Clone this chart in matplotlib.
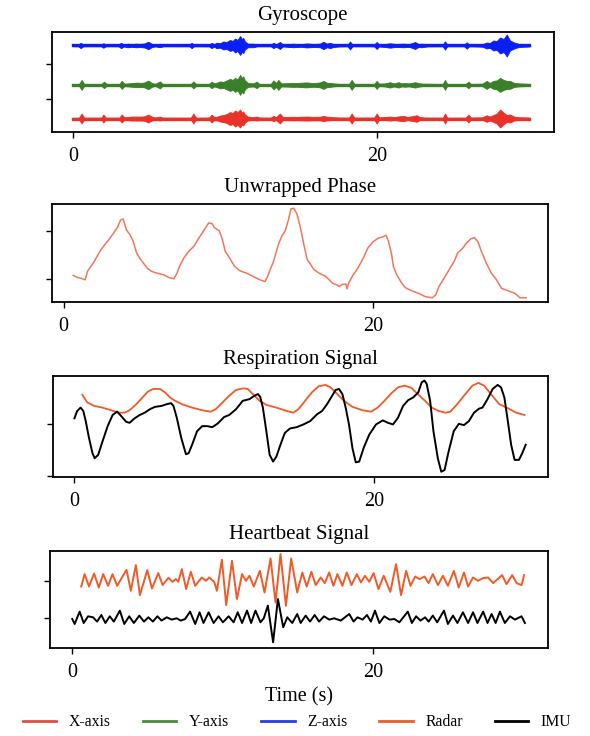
import numpy as np
import matplotlib
matplotlib.use("Agg")
import matplotlib.pyplot as plt
from matplotlib.lines import Line2D

plt.rcParams['font.family'] = ['Liberation Serif', 'DejaVu Serif']

# ----- DATA -----
# gyroscope: (time s, half width of the noise band)
gyro_x = [(0.0, 0.8), (0.4, 0.8), (0.58, 5.0), (0.75, 0.9), (1.88, 0.9), (2.01, 4.0), (2.17, 0.9), (3.05, 0.9),
          (3.21, 4.0), (3.4, 1.2), (3.87, 2.0), (4.2, 2.0), (4.5, 2.0), (4.7, 2.2), (4.96, 4.0), (5.18, 2.0),
          (5.4, 1.0), (5.73, 2.0), (5.9, 0.9), (7.75, 0.9), (7.92, 5.0), (8.1, 0.9), (8.95, 1.0), (9.12, 4.0),
          (9.3, 1.5), (9.5, 2.0), (9.67, 3.0), (9.89, 3.5), (10.1, 4.5), (10.33, 6.5), (10.5, 5.5), (10.66, 8.0),
          (10.82, 6.5), (10.99, 9.0), (11.1, 6.0), (11.2, 7.0), (11.31, 4.0), (11.5, 2.0), (11.86, 1.3),
          (12.08, 2.0), (12.25, 1.0), (13.0, 0.9), (13.18, 2.7), (13.35, 1.5), (13.61, 5.0), (13.8, 1.5),
          (14.27, 1.7), (14.49, 1.8), (14.71, 1.7), (15.0, 1.8), (15.37, 2.0), (15.8, 1.7), (16.24, 1.8),
          (16.46, 2.7), (16.7, 1.8), (16.9, 1.7), (17.12, 1.3), (17.5, 1.0), (18.15, 1.0), (18.32, 5.0),
          (18.5, 1.0), (19.8, 1.0), (19.96, 5.0), (20.12, 1.2), (20.5, 1.5), (20.84, 2.0), (21.1, 1.5),
          (21.72, 2.7), (22.0, 1.5), (22.59, 3.3), (22.8, 1.5), (23.1, 1.0), (24.3, 0.9), (24.45, 5.0),
          (24.6, 0.9), (25.8, 0.9), (25.99, 4.0), (26.15, 1.0), (26.9, 1.2), (27.19, 3.3), (27.4, 2.0),
          (27.63, 3.5), (27.85, 5.0), (28.07, 9.0), (28.3, 6.0), (28.51, 3.5), (28.72, 4.0), (29.0, 2.0),
          (29.3, 1.3), (30.0, 1.0)]
gyro_y = [(0.0, 0.8), (0.4, 0.8), (0.58, 5.0), (0.75, 0.9), (1.88, 0.9), (2.05, 3.3), (2.22, 0.9), (3.05, 0.9),
          (3.21, 4.0), (3.4, 1.2), (3.87, 1.8), (4.2, 2.3), (4.5, 2.0), (4.7, 2.5), (4.96, 4.3), (5.18, 2.0),
          (5.4, 1.0), (5.73, 3.5), (5.9, 0.9), (7.75, 0.9), (7.92, 3.5), (8.1, 0.9), (8.95, 1.0), (9.12, 3.3),
          (9.3, 1.5), (9.5, 2.5), (9.67, 3.5), (9.89, 3.0), (10.1, 4.5), (10.33, 6.0), (10.5, 5.0), (10.66, 7.0),
          (10.82, 5.5), (10.99, 10.0), (11.1, 7.0), (11.2, 8.5), (11.31, 4.5), (11.5, 2.0), (11.86, 1.5),
          (12.08, 3.3), (12.25, 1.0), (13.0, 0.9), (13.18, 4.5), (13.35, 2.0), (13.5, 5.0), (13.7, 1.5),
          (14.27, 1.8), (14.49, 2.0), (14.71, 1.8), (15.0, 2.2), (15.37, 2.5), (15.8, 1.8), (16.24, 2.5),
          (16.46, 4.0), (16.7, 2.2), (16.9, 2.0), (17.12, 1.5), (17.5, 1.0), (18.15, 1.0), (18.32, 5.0),
          (18.5, 1.0), (19.8, 1.0), (19.96, 4.0), (20.12, 1.2), (20.5, 1.5), (20.84, 2.7), (21.1, 1.5),
          (21.39, 2.7), (21.6, 1.5), (21.8, 1.8), (22.1, 1.5), (22.49, 2.7), (22.7, 1.8), (23.0, 1.2),
          (24.3, 0.9), (24.45, 5.0), (24.6, 0.9), (25.8, 0.9), (25.99, 3.3), (26.15, 1.0), (26.9, 1.2),
          (27.19, 4.0), (27.4, 2.0), (27.63, 4.0), (27.85, 4.5), (28.07, 7.0), (28.3, 5.0), (28.51, 4.0),
          (28.72, 4.0), (29.0, 2.0), (29.3, 1.5), (30.0, 1.0)]
gyro_z = [(0.0, 0.8), (0.35, 0.8), (0.52, 2.7), (0.7, 0.8), (1.85, 0.8), (2.01, 2.3), (2.17, 0.8), (3.0, 0.8),
          (3.17, 2.7), (3.35, 1.0), (3.61, 1.8), (3.87, 1.3), (4.15, 1.8), (4.42, 1.6), (4.7, 2.0), (4.96, 3.7),
          (5.18, 1.8), (5.4, 0.9), (5.73, 1.7), (5.95, 0.8), (7.65, 0.8), (7.81, 2.7), (7.97, 0.8), (8.95, 0.9),
          (9.12, 2.7), (9.28, 1.2), (9.45, 2.8), (9.67, 2.2), (9.89, 4.0), (10.1, 3.5), (10.33, 5.5), (10.5, 4.5),
          (10.66, 7.0), (10.82, 5.5), (10.99, 9.5), (11.1, 6.5), (11.2, 7.5), (11.31, 4.0), (11.5, 1.8),
          (11.86, 1.8), (12.1, 0.8), (13.0, 0.8), (13.18, 2.7), (13.35, 1.2), (13.61, 3.5), (13.8, 1.0),
          (14.27, 1.5), (14.49, 1.8), (14.71, 1.5), (15.0, 1.3), (15.37, 2.0), (15.8, 1.5), (16.24, 1.8),
          (16.46, 3.7), (16.7, 1.8), (16.9, 2.7), (17.12, 1.5), (17.5, 1.0), (18.05, 0.8), (18.21, 4.0),
          (18.38, 0.8), (19.5, 0.8), (19.8, 0.9), (19.96, 3.5), (20.12, 1.0), (20.5, 1.5), (20.84, 2.2),
          (21.2, 1.5), (21.72, 1.8), (22.1, 1.4), (22.49, 3.5), (22.7, 1.5), (22.92, 1.8), (23.3, 0.9),
          (24.3, 0.8), (24.45, 4.2), (24.6, 0.8), (25.7, 0.8), (25.88, 3.2), (26.05, 0.8), (26.9, 1.2),
          (27.19, 3.0), (27.4, 2.5), (27.63, 5.0), (27.85, 4.5), (28.07, 8.0), (28.3, 6.5), (28.51, 11.0),
          (28.72, 5.0), (29.0, 3.0), (29.3, 1.5), (30.0, 1.0)]

# unwrapped phase (time s, value)
phase = [(0.63, 26), (0.90, 24), (1.11, 23.3), (1.40, 21.7), (1.55, 30), (1.99, 40), (2.43, 51.7), (2.86, 60),
         (3.19, 66.7), (3.48, 73.3), (3.69, 80.7), (3.85, 81.7), (3.96, 76.7), (4.07, 70.7), (4.28, 66.7),
         (4.50, 60), (4.72, 48.3), (4.94, 42.7), (5.16, 38.3), (5.44, 32.7), (5.70, 30), (6.03, 28.3),
         (6.47, 26.7), (6.80, 24), (7.13, 22.7), (7.34, 28.3), (7.50, 35), (7.78, 43.3), (8.11, 50), (8.44, 55),
         (8.77, 63.3), (9.09, 70.7), (9.38, 77.7), (9.60, 77.3), (9.75, 73.3), (10.08, 70), (10.30, 60),
         (10.45, 50), (10.73, 43.3), (11.06, 35), (11.39, 30.7), (11.83, 28.3), (12.26, 25), (12.70, 21.7),
         (13.03, 20), (13.20, 25), (13.36, 31.7), (13.57, 39.3), (13.90, 56.7), (14.12, 65), (14.34, 70),
         (14.56, 81.7), (14.71, 91.7), (14.89, 92.3), (15.10, 86.7), (15.32, 73.3), (15.54, 56.7),
         (15.76, 41.7), (15.98, 36.7), (16.20, 31.7), (16.52, 28.3), (16.96, 25), (17.18, 21.7), (17.40, 18.3),
         (17.68, 16.7), (17.84, 15), (18.05, 17.3), (18.27, 17.3), (18.34, 12.7), (18.43, 18.3), (18.71, 26),
         (19.04, 33.3), (19.37, 42.7), (19.69, 53.3), (20.02, 59.3), (20.35, 62.7), (20.68, 64.3),
         (20.85, 65.7), (21.01, 60), (21.22, 46.7), (21.33, 35), (21.55, 26.7), (21.88, 18.3), (22.10, 14),
         (22.54, 10.7), (22.97, 8.3), (23.41, 5), (23.85, 4), (24.07, 6.7), (24.28, 15), (24.61, 23.3),
         (24.94, 31.7), (25.27, 40), (25.49, 48.3), (25.81, 52.7), (26.08, 58.3), (26.36, 62.3), (26.58, 63.3),
         (26.80, 59.3), (27.02, 50), (27.34, 38.3), (27.67, 28.3), (28.0, 21.7), (28.33, 13.3), (28.77, 10.7),
         (29.20, 8.3), (29.52, 4), (29.92, 4)]

# respiration (time s, value)
resp_radar = [(0.56, 81), (0.90, 73.3), (1.35, 70), (1.91, 68.3), (2.47, 65.7), (3.03, 63.3), (3.37, 63.3),
              (3.71, 65.7), (4.16, 71.7), (4.61, 79), (4.94, 84.3), (5.28, 86.7), (5.73, 86.7), (6.07, 83.3),
              (6.40, 78.3), (6.74, 75), (7.19, 71.7), (7.87, 68.3), (8.54, 65.7), (9.10, 64.3), (9.44, 66.7),
              (9.89, 73.3), (10.34, 80), (10.79, 85.7), (11.24, 87.3), (11.57, 86.7), (11.91, 81.7), (12.36, 75),
              (12.81, 71), (13.48, 68.3), (14.16, 65), (14.61, 63.3), (14.94, 66.7), (15.39, 75), (15.84, 83.3),
              (16.29, 89.3), (16.74, 90.7), (17.08, 88.3), (17.53, 81.7), (17.98, 75), (18.54, 69),
              (19.21, 65.7), (19.78, 64.3), (20.22, 68.3), (20.67, 75), (21.12, 82.3), (21.57, 88.3), (22.02, 90),
              (22.47, 87.7), (22.88, 81.7), (23.37, 75), (23.82, 68.3), (24.27, 65), (24.72, 63.3), (25.06, 64.3),
              (25.51, 71.7), (25.96, 80), (26.52, 90), (26.92, 92.7), (27.30, 90), (27.75, 81.7), (28.31, 71.7),
              (28.88, 67.7), (29.44, 63.3), (30.0, 61)]
resp_imu = [(0.04, 57.7), (0.22, 65), (0.45, 68.3), (0.63, 65), (0.79, 55), (1.01, 38.3), (1.24, 23.3),
            (1.39, 18.3), (1.62, 21.7), (1.91, 35), (2.25, 50), (2.58, 61), (2.88, 64.3), (3.15, 60), (3.48, 54.3),
            (3.71, 53.3), (4.04, 57.7), (4.38, 61), (4.72, 63.3), (5.06, 66.7), (5.39, 69), (5.84, 70),
            (6.18, 71.7), (6.47, 72.7), (6.63, 70), (6.85, 58.3), (7.15, 38.3), (7.46, 22.3), (7.64, 23.3),
            (7.87, 31.7), (8.20, 45), (8.54, 50), (8.88, 50), (9.21, 49), (9.55, 52.3), (10.0, 59), (10.34, 61),
            (10.79, 66.7), (11.24, 75), (11.69, 76.7), (12.02, 80), (12.25, 81.7), (12.40, 79), (12.58, 68.3),
            (12.81, 45), (13.03, 21.7), (13.26, 15), (13.48, 20), (13.75, 31.7), (14.04, 43.3), (14.38, 47.7),
            (14.83, 49), (15.28, 51.7), (15.73, 55), (16.18, 61.7), (16.52, 65), (16.85, 71.7), (17.19, 80),
            (17.42, 85.7), (17.64, 86.7), (17.87, 81.7), (18.09, 68.3), (18.31, 51.7), (18.54, 28.3),
            (18.76, 14.3), (18.99, 15), (19.28, 28.3), (19.66, 41.7), (20.11, 51.7), (20.56, 55.7), (20.90, 53.3),
            (21.24, 51.7), (21.57, 58.3), (21.91, 70), (22.25, 75.7), (22.58, 78.3), (22.92, 83.3), (23.15, 93.3),
            (23.33, 95), (23.48, 91.7), (23.71, 75), (23.93, 45), (24.22, 18.3), (24.45, 5), (24.67, 6.7),
            (24.94, 25), (25.28, 45), (25.62, 52.3), (25.96, 51), (26.29, 55), (26.63, 63.3), (26.97, 67.3),
            (27.19, 68.3), (27.53, 76.7), (27.87, 86.7), (28.20, 90.7), (28.43, 88.3), (28.65, 78.3), (28.88, 55),
            (29.10, 31.7), (29.33, 16.7), (29.62, 16.7), (29.84, 23.3), (30.07, 31.7)]

# heartbeat (time s, amplitude)
heart_radar = [(0.61, -5.7), (0.83, 6.7), (1.12, -5.7), (1.46, 7.3), (1.77, -6.7), (2.06, 6.7), (2.39, -5.0),
               (2.68, 6.7), (2.99, -5.0), (3.61, 11.0), (3.90, -10.0), (4.23, 15.7), (4.50, -14.3), (4.99, 10.7),
               (5.30, -7.7), (5.72, 7.7), (6.01, -4.3), (6.39, 3.0), (6.66, -1.0), (6.88, 1.7), (7.05, -1.0),
               (7.28, 11.7), (7.57, -8.3), (7.88, 9.0), (8.17, -5.0), (8.61, 3.3), (8.88, 0.0), (9.10, 3.3),
               (9.43, -1.0), (9.61, -10.0), (9.94, 21.0), (10.23, -24.3), (10.61, 20.0), (10.94, -18.3),
               (11.28, 6.7), (11.54, 0.0), (11.77, 5.0), (12.06, -5.7), (12.46, 10.0), (12.77, -11.7),
               (13.17, 22.3), (13.50, -21.7), (13.83, 26.7), (14.19, -25.0), (14.54, 22.3), (14.94, -11.7),
               (15.28, 8.3), (15.57, -5.7), (15.88, 9.0), (16.17, -4.3), (16.50, 3.3), (16.77, -2.3), (17.06, 8.3),
               (17.34, -5.0), (17.61, 6.7), (17.94, -5.0), (18.23, 8.3), (18.54, -4.3), (18.90, 6.7), (19.17, -1.7),
               (19.43, 5.0), (19.72, -1.0), (20.01, 7.7), (20.33, -8.3), (20.68, 5.0), (21.12, -11.0),
               (21.50, 16.7), (21.83, -14.3), (22.17, 10.0), (22.46, -5.0), (22.77, 4.3), (23.06, 1.7),
               (23.39, 4.3), (23.66, -2.3), (23.94, 6.7), (24.28, -4.3), (24.61, 5.0), (24.94, -5.0), (25.34, 10.0),
               (25.66, -6.7), (26.01, 8.3), (26.28, -5.7), (26.61, 3.3), (26.94, 0.0), (27.28, 2.7), (27.61, 3.3),
               (27.94, -2.3), (28.54, 5.7), (28.83, -3.3), (29.21, 5.7), (29.50, -2.3), (29.83, -4.3), (30.0, 5.7)]
heart_imu = [(0.01, -0.7), (0.17, -5.7), (0.50, 6.7), (0.77, -4.7), (1.06, 2.0), (1.39, 1.0), (1.66, -3.3),
             (1.94, 3.3), (2.21, -4.7), (2.50, 2.0), (2.77, -3.3), (3.17, 7.7), (3.46, -5.7), (3.79, 2.0),
             (4.10, -4.7), (4.46, 2.7), (4.77, -3.3), (5.06, 1.0), (5.36, -3.3), (5.66, 2.0), (5.94, -2.3),
             (6.28, 1.0), (6.61, -1.3), (6.94, 0.0), (7.21, -2.3), (7.50, -0.7), (7.83, 6.7), (8.17, -5.7),
             (8.46, 6.0), (8.72, -4.7), (9.06, 6.0), (9.39, -4.7), (9.72, 2.0), (10.01, -4.0), (10.39, 2.0),
             (10.72, -4.0), (10.99, 6.0), (11.28, -4.7), (11.61, 7.7), (11.88, -4.7), (12.17, 7.7), (12.50, -4.0),
             (12.72, 0.0), (12.99, 12.7), (13.34, -24.0), (13.66, 19.3), (14.01, -9.0), (14.28, 1.0),
             (14.61, -4.7), (14.94, 4.3), (15.17, -4.7), (15.50, 2.7), (15.79, -3.3), (16.10, 3.3), (16.39, -3.3),
             (16.72, 2.0), (17.06, -1.3), (17.39, 0.0), (17.83, -2.3), (18.39, 4.3), (18.68, -3.3), (18.94, 1.0),
             (19.28, -1.3), (19.57, 3.3), (19.83, -3.3), (20.10, 7.7), (20.39, -4.7), (20.72, 2.0), (21.06, -1.3),
             (21.39, -0.7), (21.72, -4.0), (22.28, 6.7), (22.55, -4.7), (22.83, 2.0), (23.12, -2.3), (23.43, 1.0),
             (23.66, -3.3), (23.94, 2.7), (24.23, -4.0), (24.68, 7.7), (24.94, -5.7), (25.28, 2.7), (25.57, -4.7),
             (25.94, 6.0), (26.28, -4.7), (26.61, 6.0), (26.90, -4.7), (27.28, 6.7), (27.57, -4.7), (27.84, 4.3),
             (28.11, -4.7), (28.39, 6.7), (28.72, -4.7), (29.06, 2.0), (29.39, -1.3), (29.83, 2.0), (30.05, -4.7)]

titles = ["Gyroscope", "Unwrapped Phase", "Respiration Signal", "Heartbeat Signal"]
legend_labels = ["X-axis", "Y-axis", "Z-axis", "Radar", "IMU"]
x_ticks = [0, 20]

# ----- STYLE -----
C_X, C_Y, C_Z = "#e8332b", "#3a8028", "#0a1ff5"
C_RADAR, C_PHASE, C_IMU = "#f05a28", "#f2765a", "black"
GYRO_BASE = {"x": 13.3, "y": 47.0, "z": 86.5}
HEART_BASE = {"radar": 67.0, "imu": 29.5}

fig = plt.figure(figsize=(5.9, 7.36), dpi=100)
W, H = 590.0, 736.0


def make_ax(left, right, top, bottom, xlim, ylim, yticks, title):
    ax = fig.add_axes([left / W, 1 - bottom / H, (right - left) / W, (bottom - top) / H])
    ax.set_xlim(*xlim)
    ax.set_ylim(*ylim)
    ax.set_xticks(x_ticks)
    ax.set_xticklabels([str(t) for t in x_ticks])
    ax.set_yticks(yticks)
    ax.set_yticklabels([])
    ax.tick_params(axis="both", direction="out", length=4.5, width=1.0, labelsize=14.5, pad=6.5)
    for s in ax.spines.values():
        s.set_linewidth(1.3)
    ax.set_title(title, fontsize=15, pad=8.5)
    return ax


# gyroscope
ax1 = make_ax(51.8, 553.5, 32, 131.8, (-1.38, 31.58), (0, 100), [33, 67.5], titles[0])
for data, key, col in [(gyro_z, "z", C_Z), (gyro_y, "y", C_Y), (gyro_x, "x", C_X)]:
    arr = np.array(data)
    base = GYRO_BASE[key]
    ax1.plot(arr[:, 0], np.full(len(arr), base), color=col, lw=2.4)
    ax1.fill_between(arr[:, 0], base - arr[:, 1], base + arr[:, 1], color=col, lw=0.6)

# unwrapped phase
ax2 = make_ax(51.8, 548.4, 203.8, 301.8, (-0.76, 31.36), (0, 96.7), [22.7, 70], titles[1])
arr = np.array(phase)
ax2.plot(arr[:, 0], arr[:, 1], color=C_PHASE, lw=1.1)

# respiration
ax3 = make_ax(52.8, 548.4, 375.5, 476.8, (-1.40, 31.58), (0, 100), [0.7, 51.7], titles[2])
arr = np.array(resp_radar)
ax3.plot(arr[:, 0], arr[:, 1], color=C_RADAR, lw=1.3)
arr = np.array(resp_imu)
ax3.plot(arr[:, 0], arr[:, 1], color=C_IMU, lw=1.4)

# heartbeat
ax4 = make_ax(50.1, 548.4, 550.5, 647.8, (-1.46, 31.61), (0, 97.3),
              [HEART_BASE["imu"], HEART_BASE["radar"]], titles[3])
arr = np.array(heart_radar)
ax4.plot(arr[:, 0], HEART_BASE["radar"] + arr[:, 1], color=C_RADAR, lw=1.4, solid_joinstyle="round")
arr = np.array(heart_imu)
ax4.plot(arr[:, 0], HEART_BASE["imu"] + arr[:, 1], color=C_IMU, lw=1.4, solid_joinstyle="round")
ax4.set_xlabel("Time (s)", fontsize=14.5, labelpad=4)

# shared legend at the bottom
handles = [Line2D([], [], color=c, lw=2.0) for c in ["#e84a3f", "#4a8a3a", "#2a3af0", C_RADAR, C_IMU]]
fig.legend(handles, legend_labels, loc="center", bbox_to_anchor=(297 / W, 1 - 722 / H), ncol=5,
           frameon=False, fontsize=11.3, handlelength=2.14, handletextpad=0.79, columnspacing=2.04)

fig.savefig("out.png", dpi=100)
